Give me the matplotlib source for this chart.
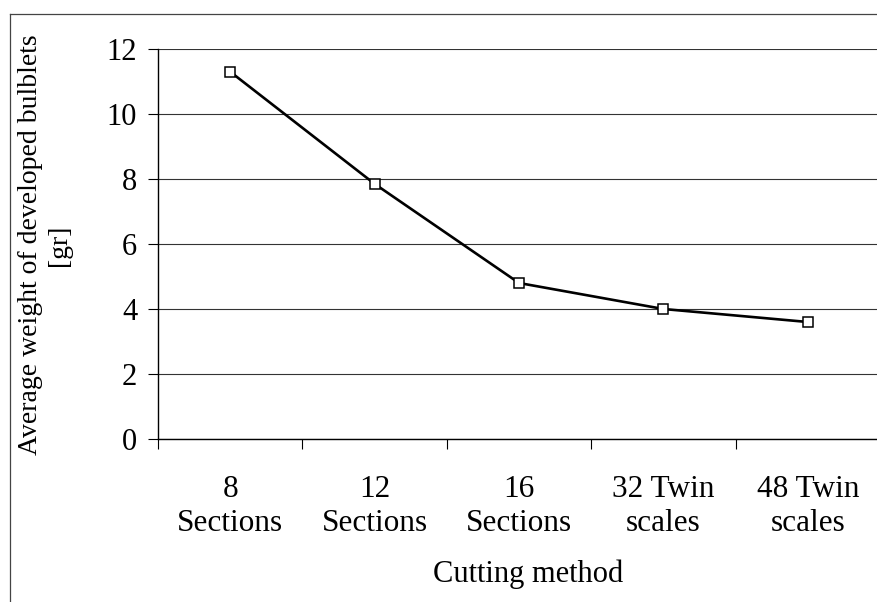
import matplotlib.pyplot as plt
from matplotlib.lines import Line2D

# data
metodos = ["8\nSections", "12\nSections", "16\nSections", "32 Twin\nscales", "48 Twin\nscales"]
peso_medio = [11.3, 7.85, 4.8, 4.0, 3.6]
y_ticks = [0, 2, 4, 6, 8, 10, 12]

plt.rcParams["font.family"] = ["Liberation Serif", "DejaVu Serif"]

fig = plt.figure(figsize=(8.77, 6.02), dpi=100)
ax = fig.add_axes([158 / 877, 1 - 439 / 602, 722 / 877, 390 / 602])

x = list(range(len(metodos)))

ax.plot(
    x,
    peso_medio,
    color="black",
    linewidth=1.9,
    marker="s",
    markersize=6.5,
    markerfacecolor="white",
    markeredgecolor="black",
    markeredgewidth=1.1,
    zorder=3
)

ax.set_xlim(-0.5, len(metodos) - 0.5)
ax.set_ylim(0, 12)

# ticks at category boundaries, labels at centres
ax.set_xticks([i - 0.5 for i in range(len(metodos) + 1)])
ax.set_xticklabels([])
ax.set_xticks(x, minor=True)
ax.set_xticklabels(metodos, minor=True, fontsize=22.5, linespacing=1.2)
ax.tick_params(axis="x", which="major", direction="out", length=7, width=0.8)
ax.tick_params(axis="x", which="minor", length=0, pad=26)

ax.set_yticks(y_ticks)
ax.set_yticklabels([str(v) for v in y_ticks], fontsize=22)
ax.tick_params(axis="y", direction="out", length=7, width=0.8, pad=8)

ax.grid(axis="y", color="#333333", linewidth=0.8)
ax.set_axisbelow(True)

for s in ["top", "right"]:
    ax.spines[s].set_visible(False)
ax.spines["left"].set_linewidth(1.0)
ax.spines["bottom"].set_linewidth(1.0)

ax.set_xlabel("Cutting method", fontsize=22, va="baseline")
ax.xaxis.set_label_coords(0.5125, -0.366)

ax.set_ylabel("Average weight of developed bulblets\n[gr]", fontsize=20,
              va="center", linespacing=1.2)
ax.yaxis.set_label_coords(-0.157, 0.497)

# outer frame of the original chart area
fig.add_artist(Line2D([10 / 877, 10 / 877], [0, 1 - 14 / 602],
                      transform=fig.transFigure, color="#444444", linewidth=0.9))
fig.add_artist(Line2D([10 / 877, 1], [1 - 14 / 602, 1 - 14 / 602],
                      transform=fig.transFigure, color="#444444", linewidth=0.9))

fig.savefig("out.png", dpi=100)
